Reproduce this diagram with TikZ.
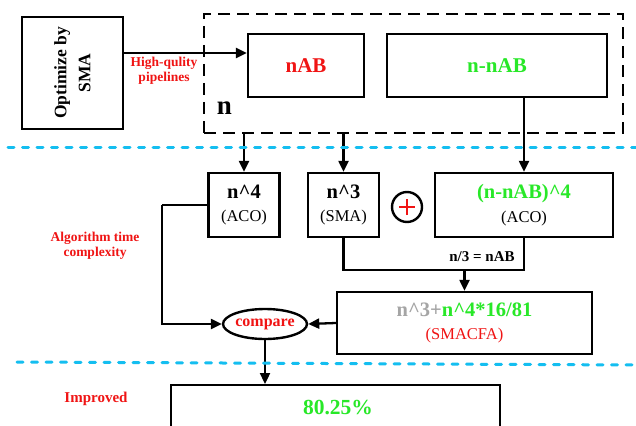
\documentclass[tikz,border=0pt]{standalone}
\usepackage{fontspec}
\setmainfont{Liberation Serif}
\usetikzlibrary{arrows.meta,shapes.geometric}
\definecolor{mygreen}{RGB}{40,232,40}
\definecolor{mygray}{RGB}{165,165,165}
\definecolor{mycyan}{RGB}{20,190,240}
\definecolor{myred}{RGB}{240,20,20}
\tikzset{
  box/.style={draw, line width=2.4pt, inner sep=0pt, align=center},
  twoline/.style={box, font=\fontsize{16.5}{23.5}\selectfont},
  arr/.style={line width=2.3pt, -{Triangle[length=11pt,width=10pt]}},
  ln/.style={line width=2.3pt},
  dashbox/.style={draw, line width=2.6pt, dash pattern=on 12pt off 7pt, inner sep=0pt},
  cyanline/.style={draw=mycyan, line width=3pt, line cap=round, dash pattern=on 6pt off 8.5pt},
  redlbl/.style={text=myred, font=\bfseries\fontsize{13.5}{15.5}\selectfont, align=center, inner sep=0pt}
}
\newcommand{\bigtxt}{\bfseries\fontsize{20.5}{23.5}\selectfont}
\begin{document}
\begin{tikzpicture}[x=1pt,y=-1pt]
\clip (0,0) rectangle (636,425);
\fill[white] (0,0) rectangle (636,425);

% top section
\node[box, minimum width=101pt, minimum height=112pt] (opt) at (72.5,73) {};
\node[rotate=90, align=center, font=\bfseries\fontsize{17.5}{24}\selectfont] (optt) at (opt.center) {Optimize by\\SMA};
\node[dashbox, minimum width=419pt, minimum height=119pt] (dbox) at (413.5,73.5) {};
\node[box, minimum width=116pt, minimum height=63pt, text=myred, font=\bfseries\fontsize{21}{24}\selectfont] (nab) at (306,65.5) {nAB};
\node[box, minimum width=220pt, minimum height=63pt, text=mygreen, font=\bfseries\fontsize{21}{24}\selectfont] (nnab) at (497,65.5) {n-nAB};
\node[font=\bfseries\fontsize{27}{30}\selectfont, inner sep=0pt] (nlbl) at (224.5,108) {n};
\coordinate (a1) at (123,53);
\draw[arr] (a1) -- (a1 -| nab.west);
\node[redlbl] (hq) at (164,71) {High-qulity\\pipelines};

% middle section
\node[twoline, minimum width=71pt, minimum height=64pt] (n4) at (244,205)
  {{\bigtxt n\^{}4}\\(ACO)};
\node[twoline, minimum width=71pt, minimum height=64pt] (n3) at (343.5,205)
  {{\bigtxt n\^{}3}\\(SMA)};
\node[draw, circle, line width=2.4pt, minimum size=30pt, inner sep=0pt] (plus) at (407,207) {};
\draw[myred, line width=2pt] ([xshift=-8pt]plus.center) -- ([xshift=8pt]plus.center);
\draw[myred, line width=2pt] ([yshift=-8pt]plus.center) -- ([yshift=8pt]plus.center);
\node[twoline, minimum width=178pt, minimum height=64pt] (nn4) at (524,205)
  {{\bigtxt\color{mygreen}(n-nAB)\^{}4}\\(ACO)};
\node[redlbl] (atc) at (95,246) {Algorithm time\\complexity};

\draw[arr] (dbox.south -| n4.north) -- (n4.north);
\draw[arr] (dbox.south -| n3.north) -- (n3.north);
\draw[arr] (nn4.north |- nnab.south) -- (nn4.north);

\node[twoline, minimum width=255pt, minimum height=62pt] (sm) at (464.5,323)
  {{\bigtxt\color{mygray}n\^{}3+\color{mygreen}n\^{}4*16/81}\\{\color{myred}(SMACFA)}};
\coordinate (j) at (464.5,270);
\draw[ln] (n3.south) |- (j) -| (nn4.south);
\draw[arr] (j) -- (sm.north);
\node[font=\bfseries\fontsize{15}{17}\selectfont, inner sep=0pt] (eq) at (482,257) {n/3 = nAB};

\node[draw, ellipse, line width=2.4pt, minimum width=84pt, minimum height=30pt, inner sep=0pt, text=myred, font=\bfseries\fontsize{16}{18}\selectfont] (cmp) at (265,324) {compare};
\coordinate (k) at (162,205);
\draw[ln] (n4.west) -- (k);
\draw[arr] (k) |- (cmp.west);
\draw[arr] (sm.west) -- (cmp.east);

% bottom section
\node[box, minimum width=329pt, minimum height=80pt, anchor=north] (res) at (335.5,384) {};
\node[font=\bfseries\fontsize{21.5}{24}\selectfont, text=mygreen, inner sep=0pt] (pct) at (338,407) {80.25\%};
\draw[arr] (cmp.south) -- (cmp.south |- res.north);
\node[text=myred, font=\bfseries\fontsize{15}{17}\selectfont, inner sep=0pt] (imp) at (96,399) {Improved};

% separators
\draw[cyanline] (8,147) -- (636,147);
\draw[cyanline] (17,362) -- (636,365);
\end{tikzpicture}
\end{document}
